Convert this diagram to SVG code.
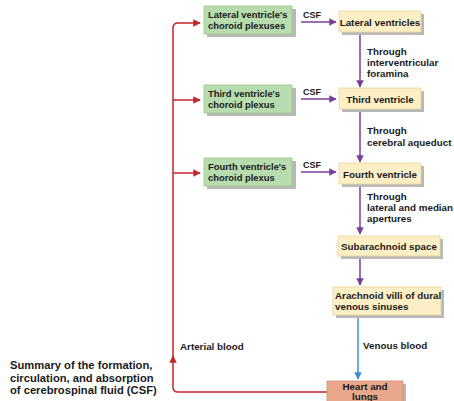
<svg xmlns="http://www.w3.org/2000/svg" width="454" height="401" viewBox="0 0 454 401">
<defs>
<style>
text{font-family:"Liberation Sans",Arial,sans-serif;font-weight:bold;fill:#1a1a1a;}
.t{font-size:9.8px;}
.g{font-size:9.4px;}
.c{font-size:9.8px;text-anchor:middle;}
.s{font-size:9px;}
.title{font-size:11.2px;}
.green{fill:#b7dcae;stroke:#9cc592;stroke-width:0.8;}
.yellow{fill:#fcefc6;stroke:#e8d49a;stroke-width:0.8;}
.heart{fill:#e9a78b;stroke:#d48e72;stroke-width:0.8;}
.shadow{fill:#b8b8b8;}
.p{stroke:#7a3f97;stroke-width:1.5;fill:none;}
.r{stroke:#c1272d;stroke-width:1.5;fill:none;}
.b{stroke:#3a8fd6;stroke-width:1.5;fill:none;}
</style>
<marker id="ap" viewBox="0 0 10 10" refX="9" refY="5" markerWidth="5" markerHeight="5" orient="auto"><path d="M0,0L10,5L0,10z" fill="#7a3f97"/></marker>
<marker id="ar" viewBox="0 0 10 10" refX="9" refY="5" markerWidth="5" markerHeight="5" orient="auto"><path d="M0,0L10,5L0,10z" fill="#c1272d"/></marker>
<marker id="ab" viewBox="0 0 10 10" refX="9" refY="5" markerWidth="5" markerHeight="5" orient="auto"><path d="M0,0L10,5L0,10z" fill="#3a8fd6"/></marker>
</defs>
<rect width="454" height="401" fill="#ffffff"/>

<g id="connectors">
<path class="r" d="M328,392 H178 Q173,392 173,387 V28 Q173,23 178,23 H200" marker-end="url(#ar)"/>
<path class="r" d="M173,100 H200" marker-end="url(#ar)"/>
<path class="r" d="M173,173 H200" marker-end="url(#ar)"/>
<path class="r" d="M173,362 V356" marker-end="url(#ar)"/>
<path class="p" d="M301,22 H336" marker-end="url(#ap)"/>
<path class="p" d="M301,99 H336" marker-end="url(#ap)"/>
<path class="p" d="M301,172 H336" marker-end="url(#ap)"/>
<path class="p" d="M360,34 V87" marker-end="url(#ap)"/>
<path class="p" d="M360,111 V162" marker-end="url(#ap)"/>
<path class="p" d="M360,186 V234" marker-end="url(#ap)"/>
<path class="p" d="M360,257 V285" marker-end="url(#ap)"/>
<path class="b" d="M358,316 V379" marker-end="url(#ab)"/>
<text class="s" x="303" y="18">CSF</text>
<text class="s" x="303" y="95">CSF</text>
<text class="s" x="303" y="168">CSF</text>
<text class="t" x="367" y="55">Through</text>
<text class="t" x="367" y="66">interventricular</text>
<text class="t" x="367" y="77">foramina</text>
<text class="t" x="367" y="134">Through</text>
<text class="t" x="367" y="146">cerebral aqueduct</text>
<text class="t" x="367" y="200">Through</text>
<text class="t" x="367" y="211">lateral and median</text>
<text class="t" x="367" y="222">apertures</text>
<text class="t" x="180" y="350">Arterial blood</text>
<text class="t" x="363" y="349">Venous blood</text>
</g>

<g id="lateral-choroid">
<rect class="shadow" x="207" y="9" width="89" height="28"/>
<rect class="green" x="204" y="6" width="88" height="28"/>
<text class="g" x="208" y="17.5">Lateral ventricle's</text>
<text class="g" x="208" y="29">choroid plexuses</text>
</g>
<g id="third-choroid">
<rect class="shadow" x="207" y="88" width="89" height="28"/>
<rect class="green" x="204" y="85" width="88" height="28"/>
<text class="g" x="208" y="96.5">Third ventricle's</text>
<text class="g" x="208" y="108">choroid plexus</text>
</g>
<g id="fourth-choroid">
<rect class="shadow" x="207" y="161" width="89" height="28"/>
<rect class="green" x="204" y="158" width="88" height="28"/>
<text class="g" x="208" y="169.5">Fourth ventricle's</text>
<text class="g" x="208" y="181">choroid plexus</text>
</g>

<g id="lateral-ventricles">
<rect class="shadow" x="342" y="14" width="82" height="21"/>
<rect class="yellow" x="339" y="11" width="82" height="21"/>
<text class="c" x="380" y="25.5">Lateral ventricles</text>
</g>
<g id="third-ventricle">
<rect class="shadow" x="342" y="91" width="82" height="21"/>
<rect class="yellow" x="339" y="88" width="82" height="21"/>
<text class="c" x="380" y="102.5">Third ventricle</text>
</g>
<g id="fourth-ventricle">
<rect class="shadow" x="342" y="166" width="82" height="21"/>
<rect class="yellow" x="339" y="163" width="82" height="21"/>
<text class="c" x="380" y="177.5">Fourth ventricle</text>
</g>
<g id="subarachnoid">
<rect class="shadow" x="341" y="239" width="102" height="20"/>
<rect class="yellow" x="338" y="236" width="102" height="20"/>
<text class="c" x="389" y="249.5">Subarachnoid space</text>
</g>
<g id="arachnoid-villi">
<rect class="shadow" x="336" y="290" width="108" height="28"/>
<rect class="yellow" x="333" y="287" width="108" height="28"/>
<text class="t" x="335" y="298.5">Arachnoid villi of dural</text>
<text class="t" x="335" y="310">venous sinuses</text>
</g>
<g id="heart-lungs">
<rect class="shadow" x="330" y="384" width="76" height="20"/>
<rect class="heart" x="327" y="381" width="76" height="22"/>
<text class="c" x="365" y="390">Heart and</text>
<text class="c" x="365" y="400">lungs</text>
</g>

<g id="title">
<text class="title" x="10" y="369">Summary of the formation,</text>
<text class="title" x="10" y="381.5">circulation, and absorption</text>
<text class="title" x="10" y="394">of cerebrospinal fluid (CSF)</text>
</g>
</svg>
